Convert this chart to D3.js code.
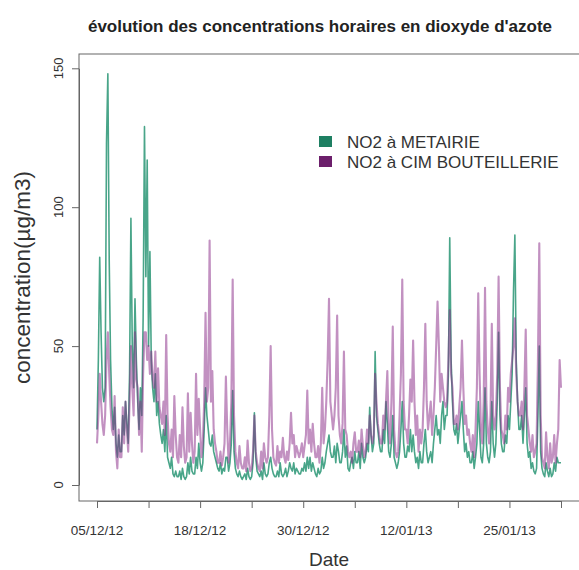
<!DOCTYPE html>
<html>
<head>
<meta charset="utf-8">
<script src="https://cdn.jsdelivr.net/npm/d3@7"></script>
<style>
  body { margin: 0; background: #fff; }
  svg { display: block; }
  text { font-family: "Liberation Sans", Arial, Helvetica, sans-serif; }
</style>
</head>
<body>
<svg id="chart" width="579" height="570"></svg>
<script>
// Hourly NO2 concentrations (µg/m3), sampled every 4 hours from 05/12/2012 00:00
const startTime = new Date(2012, 11, 5, 0, 0);
const stepHours = 4;

// NO2 à METAIRIE — one row per day
const metairie = [
  20, 45, 82, 55, 35, 30,
  35, 123, 148, 81, 45, 28,
  20, 28, 15, 10, 18, 12,
  12, 25, 18, 30, 22, 15,
  40, 96, 50, 35, 67, 45,
  30, 20, 35, 25, 60, 129,
  75, 117, 50, 84, 45, 35,
  30, 40, 25, 30, 22, 18,
  15, 20, 12, 25, 10, 8,
  6, 10, 4, 3, 5, 3,
  3, 5, 2, 6, 3, 2,
  3, 8, 4, 10, 5, 4,
  4, 10, 6, 15, 8, 5,
  8, 20, 35, 25, 20, 15,
  14, 18, 12, 10, 8, 6,
  5, 8, 4, 6, 5, 10,
  10, 5, 8, 15, 34, 12,
  6, 4, 3, 5, 3, 2,
  3, 4, 2, 6, 3, 2,
  3, 8, 26, 10, 5, 4,
  3, 5, 2, 8, 4, 3,
  4, 8, 10, 6, 4, 3,
  3, 5, 3, 8, 4, 3,
  4, 6, 3, 5, 8, 6,
  5, 8, 4, 6, 5, 4,
  4, 6, 5, 8, 5, 10,
  6, 10, 5, 8, 6, 4,
  3, 6, 4, 5, 10, 6,
  8, 12, 15, 18, 12, 10,
  10, 14, 8, 15, 12, 8,
  8, 12, 20, 10, 14, 6,
  5, 8, 10, 6, 12, 8,
  8, 12, 6, 15, 10, 8,
  10, 15, 12, 28, 18, 12,
  15, 48, 25, 20, 15, 12,
  12, 20, 15, 30, 22, 12,
  10, 15, 25, 10, 8, 6,
  8, 12, 20, 30, 15, 10,
  10, 14, 12, 20, 12, 18,
  12, 8, 10, 6, 12, 8,
  8, 15, 20, 12, 8, 10,
  12, 8, 15, 20, 25, 18,
  20, 15, 25, 30, 20, 25,
  25, 40, 89, 45, 30, 20,
  18, 22, 15, 20, 25, 30,
  20, 12, 15, 10, 12, 8,
  8, 12, 6, 10, 15, 30,
  20, 10, 8, 15, 35, 15,
  10, 8, 12, 30, 15, 10,
  15, 30, 55, 25, 15, 12,
  12, 18, 15, 25, 20, 30,
  40, 70, 90, 45, 30, 20,
  20, 25, 15, 25, 35, 15,
  10, 12, 6, 8, 5, 4,
  6, 25, 50, 12, 6, 4,
  3, 8, 5, 3, 6, 3,
  4, 8, 5, 10, 8, 8,
  8
];

// NO2 à CIM BOUTEILLERIE — one row per day
const bouteillerie = [
  15, 25, 40, 30, 22, 18,
  25, 45, 55, 40, 28, 20,
  18, 32, 12, 6, 20, 10,
  10, 28, 15, 30, 20, 12,
  30, 50, 35, 25, 55, 38,
  35, 18, 30, 12, 40, 55,
  55, 45, 50, 40, 48, 38,
  35, 48, 30, 42, 28, 25,
  22, 30, 18, 54, 25, 15,
  12, 20, 10, 32, 18, 10,
  8, 18, 10, 28, 14, 8,
  10, 33, 12, 26, 15, 8,
  12, 40, 18, 31, 20, 10,
  15, 30, 62, 30, 35, 88,
  30, 41, 20, 15, 12, 8,
  8, 12, 7, 10, 15, 39,
  20, 8, 15, 30, 74, 25,
  12, 8, 6, 14, 8, 6,
  6, 10, 5, 16, 8, 5,
  6, 12, 25, 12, 8, 6,
  5, 12, 6, 15, 10, 8,
  10, 25, 50, 20, 10, 8,
  7, 14, 8, 12, 10, 17,
  10, 8, 12, 9, 15, 26,
  15, 18, 10, 14, 12, 10,
  12, 15, 10, 14, 18, 34,
  15, 20, 12, 22, 15, 10,
  10, 14, 8, 15, 35, 15,
  20, 30, 45, 67, 30, 25,
  20, 25, 35, 61, 25, 18,
  15, 22, 48, 20, 18, 12,
  10, 12, 8, 15, 19, 12,
  12, 16, 10, 20, 14, 10,
  12, 20, 15, 25, 18, 15,
  18, 40, 30, 22, 18, 15,
  15, 25, 20, 30, 41, 20,
  15, 30, 57, 20, 12, 10,
  12, 25, 40, 74, 30, 20,
  20, 15, 25, 38, 30, 52,
  30, 18, 25, 12, 20, 15,
  20, 35, 58, 30, 20, 25,
  30, 18, 25, 35, 50, 66,
  50, 30, 40, 35, 30, 28,
  30, 45, 63, 40, 35, 22,
  22, 25, 20, 28, 35, 52,
  35, 22, 25, 18, 20, 15,
  12, 18, 10, 20, 35, 69,
  40, 20, 15, 30, 71, 30,
  20, 15, 25, 58, 25, 20,
  25, 40, 75, 35, 20, 18,
  15, 25, 20, 35, 30, 40,
  45, 50, 60, 40, 30, 25,
  25, 30, 20, 35, 56, 25,
  20, 15, 12, 18, 10, 12,
  15, 45, 87, 25, 10, 8,
  6, 19, 10, 6, 15, 8,
  10, 18, 8, 15, 20, 45,
  35
];

const seriesNames = ["NO2 à METAIRIE", "NO2 à CIM BOUTEILLERIE"];
const yTicks = [0, 50, 100, 150];
const dateLabels = ["05/12/12", "18/12/12", "30/12/12", "12/01/13", "25/01/13"];
const titleText = "évolution des concentrations horaires en dioxyde d'azote";
const xTitle = "Date";
const yTitle = "concentration(µg/m3)";

// styling
const lineColors = ["#1b8f6b", "#8a2c88"];
const lineOpacity = [0.8, 0.52];
const lineWidths = [1.6, 2.1];
const legendColors = ["#1e7f62", "#6c1f6b"];

const svg = d3.select("#chart");
const box = { left: 79, right: 580, top: 54, bottom: 501 };

const times = metairie.map((_, i) => d3.timeHour.offset(startTime, i * stepHours));
const endTime = times[times.length - 1];

const x = d3.scaleTime().domain([startTime, endTime]).range([97, 561]);
const y = d3.scaleLinear().domain([0, 150]).range([485, 68.3]);

// series lines
const line = d3.line().x((d, i) => x(times[i])).y(d => y(d));
const plot = svg.append("g");
[metairie, bouteillerie].forEach((vals, k) => {
  plot.append("path")
    .datum(vals)
    .attr("d", line)
    .attr("fill", "none")
    .attr("stroke", lineColors[k])
    .attr("stroke-opacity", lineOpacity[k])
    .attr("stroke-width", lineWidths[k])
    .attr("stroke-linejoin", "round");
});

// frame
svg.append("rect")
  .attr("x", box.left).attr("y", box.top)
  .attr("width", box.right - box.left).attr("height", box.bottom - box.top)
  .attr("fill", "none").attr("stroke", "#666").attr("stroke-width", 1);

// y axis
const yAxis = svg.append("g")
  .attr("transform", `translate(${box.left},0)`)
  .call(d3.axisLeft(y).tickValues(yTicks).tickSize(7).tickSizeOuter(0).tickFormat(""));
yAxis.selectAll("path,line").attr("stroke", "#666");
svg.append("g").selectAll("text").data(yTicks).join("text")
  .attr("transform", d => `translate(63,${y(d)}) rotate(-90)`)
  .attr("text-anchor", "middle")
  .attr("font-size", 13)
  .attr("fill", "#333")
  .text(d => d);

// x axis: ten evenly spaced ticks, every other one labelled
const nTicks = 10;
const span = endTime - startTime;
const tickDates = d3.range(nTicks).map(k => new Date(+startTime + span * k / (nTicks - 1)));
const xAxis = svg.append("g")
  .attr("transform", `translate(0,${box.bottom})`)
  .call(d3.axisBottom(x).tickValues(tickDates).tickSize(7).tickSizeOuter(0).tickFormat(""));
xAxis.selectAll("path,line").attr("stroke", "#666");
svg.append("g").selectAll("text").data(dateLabels).join("text")
  .attr("x", (d, i) => x(tickDates[i * 2]))
  .attr("y", 535)
  .attr("text-anchor", "middle")
  .attr("font-size", 13.5)
  .attr("fill", "#333")
  .text(d => d);

// titles
svg.append("text")
  .attr("x", 320).attr("y", 32)
  .attr("text-anchor", "middle")
  .attr("font-size", 17).attr("font-weight", "bold")
  .attr("fill", "#222")
  .text(titleText);

svg.append("text")
  .attr("x", 329).attr("y", 566)
  .attr("text-anchor", "middle")
  .attr("font-size", 19)
  .attr("fill", "#333")
  .text(xTitle);

svg.append("text")
  .attr("transform", `translate(30,${(box.top + box.bottom) / 2}) rotate(-90)`)
  .attr("text-anchor", "middle")
  .attr("font-size", 22.5)
  .attr("fill", "#333")
  .text(yTitle);

// legend
const legend = svg.append("g").attr("transform", "translate(319,136)");
seriesNames.forEach((name, k) => {
  const g = legend.append("g").attr("transform", `translate(0,${k * 20})`);
  g.append("rect").attr("width", 13).attr("height", 11).attr("fill", legendColors[k]);
  g.append("text")
    .attr("x", 28).attr("y", 11.5)
    .attr("font-size", 17)
    .attr("fill", "#333")
    .text(name);
});
</script>
</body>
</html>
